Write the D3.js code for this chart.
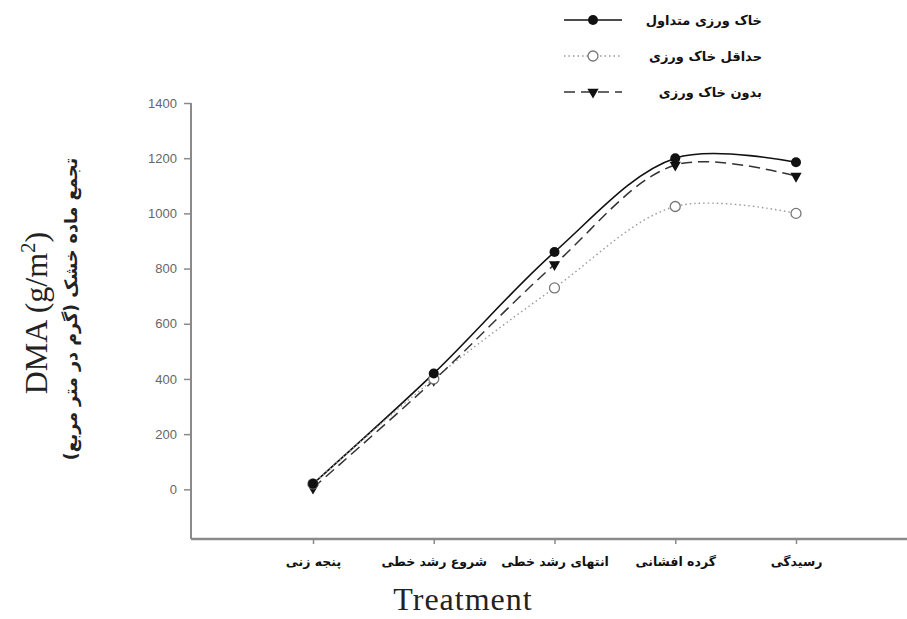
<!DOCTYPE html>
<html>
<head>
<meta charset="utf-8">
<script src="https://cdnjs.cloudflare.com/ajax/libs/d3/7.8.5/d3.min.js"></script>
<style>
  body { margin: 0; background: #fff; }
  svg { display: block; }
  .fa { font-family: "DejaVu Sans", sans-serif; font-weight: bold; }
</style>
</head>
<body>
<svg id="svg1" width="907" height="619"></svg>
<script>
// stages (x categories)
var stages = ['پنجه زنی', 'شروع رشد خطی', 'انتهای رشد خطی', 'گرده افشانی', 'رسیدگی'];

// series names
var seriesNames = ['خاک ورزی متداول', 'حداقل خاک ورزی', 'بدون خاک ورزی'];

// dry matter accumulation (g/m2)
var conventional = [20, 420, 860, 1200, 1185];
var minimum = [20, 400, 730, 1025, 1000];
var noTillage = [5, 395, 815, 1175, 1135];

var yTicks = [0, 200, 400, 600, 800, 1000, 1200, 1400];

var svg = d3.select('#svg1');

var plotLeft = 191, plotRight = 907, plotTop = 103, plotBottom = 539;

var scaleX = d3.scalePoint().domain(stages).range([313, 796]);
var scaleY = d3.scaleLinear().domain([-180, 1400]).range([plotBottom, plotTop]);

var axisColor = '#8a8a8a';

// y axis
var yAxis = svg.append('g')
    .attr('transform', 'translate(' + plotLeft + ',0)')
    .call(d3.axisLeft(scaleY).tickValues(yTicks).tickFormat(d3.format('d'))
        .tickSize(7).tickSizeOuter(0).tickPadding(7));
yAxis.select('.domain').attr('stroke', axisColor).attr('stroke-width', 2)
    .attr('d', 'M0,' + plotTop + 'V' + plotBottom);
yAxis.selectAll('.tick line').attr('stroke', axisColor).attr('stroke-width', 1.5);
yAxis.selectAll('.tick text')
    .attr('fill', '#666')
    .style('font-family', 'Liberation Sans, Arial, sans-serif')
    .style('font-size', '13px');

// x axis
var xAxis = svg.append('g')
    .attr('transform', 'translate(0,' + plotBottom + ')')
    .call(d3.axisBottom(scaleX).tickSize(5).tickSizeOuter(0).tickPadding(13));
xAxis.select('.domain').attr('stroke', axisColor).attr('stroke-width', 2.5)
    .attr('d', 'M' + plotLeft + ',0H' + plotRight);
xAxis.selectAll('.tick line').attr('stroke', axisColor).attr('stroke-width', 1.5);
xAxis.selectAll('.tick text')
    .attr('class', 'fa')
    .attr('fill', '#111')
    .style('font-size', '12.5px')
    .attr('direction', 'rtl');

// axis titles
svg.append('text')
    .attr('transform', 'translate(47,313) rotate(-90)')
    .attr('text-anchor', 'middle')
    .style('font-family', 'Liberation Serif, Times New Roman, serif')
    .style('font-size', '32px')
    .attr('fill', '#222')
    .html('DMA (g/m<tspan baseline-shift="super" font-size="21px">2</tspan>)');

svg.append('text')
    .attr('class', 'fa')
    .attr('transform', 'translate(77,309) rotate(-90)')
    .attr('text-anchor', 'middle')
    .attr('direction', 'rtl')
    .style('font-size', '17.5px')
    .attr('fill', '#222')
    .text('تجمع ماده خشک (گرم در متر مربع)');

svg.append('text')
    .attr('x', 463).attr('y', 610)
    .attr('text-anchor', 'middle')
    .style('font-family', 'Liberation Serif, Times New Roman, serif')
    .style('font-size', '32px')
    .style('letter-spacing', '1px')
    .attr('fill', '#222')
    .text('Treatment');

// series
var series = [
    {name: seriesNames[0], values: conventional, dash: null, color: '#111', width: 1.6, marker: 'filled'},
    {name: seriesNames[1], values: minimum, dash: '1.5,3', color: '#999', width: 1.4, marker: 'open'},
    {name: seriesNames[2], values: noTillage, dash: '11,6', color: '#333', width: 1.5, marker: 'tri'}
];

var line = d3.line()
    .x(function(d, i) { return scaleX(stages[i]); })
    .y(function(d) { return scaleY(d); })
    .curve(d3.curveCatmullRom.alpha(0.5));

function drawMarker(g, type, x, y) {
    if (type === 'filled') {
        g.append('circle').attr('cx', x).attr('cy', y).attr('r', 5).attr('fill', '#111');
    } else if (type === 'open') {
        g.append('circle').attr('cx', x).attr('cy', y).attr('r', 5)
            .attr('fill', '#fff').attr('stroke', '#777').attr('stroke-width', 1.3);
    } else {
        g.append('path')
            .attr('d', d3.symbol().type(d3.symbolTriangle).size(55)())
            .attr('transform', 'translate(' + x + ',' + y + ') rotate(180)')
            .attr('fill', '#111');
    }
}

series.forEach(function(s) {
    svg.append('path')
        .datum(s.values)
        .attr('d', line)
        .attr('fill', 'none')
        .attr('stroke', s.color)
        .attr('stroke-width', s.width)
        .attr('stroke-dasharray', s.dash);
});

// markers drawn in reverse so the filled circles sit on top
series.slice().reverse().forEach(function(s) {
    var g = svg.append('g');
    s.values.forEach(function(v, i) {
        drawMarker(g, s.marker, scaleX(stages[i]), scaleY(v));
    });
});

// legend
var legendY = d3.scalePoint().domain(seriesNames).range([20, 92]);
series.forEach(function(s) {
    var y = legendY(s.name);
    var g = svg.append('g');
    g.append('line')
        .attr('x1', 564).attr('x2', 622).attr('y1', y).attr('y2', y)
        .attr('stroke', s.color).attr('stroke-width', s.width)
        .attr('stroke-dasharray', s.dash);
    drawMarker(g, s.marker, 593, y);
    g.append('text')
        .attr('class', 'fa')
        .attr('x', 762).attr('y', y + 5)
        .attr('text-anchor', 'start')
        .attr('direction', 'rtl')
        .style('font-size', '13px')
        .attr('fill', '#111')
        .text(s.name);
});
</script>
</body>
</html>
